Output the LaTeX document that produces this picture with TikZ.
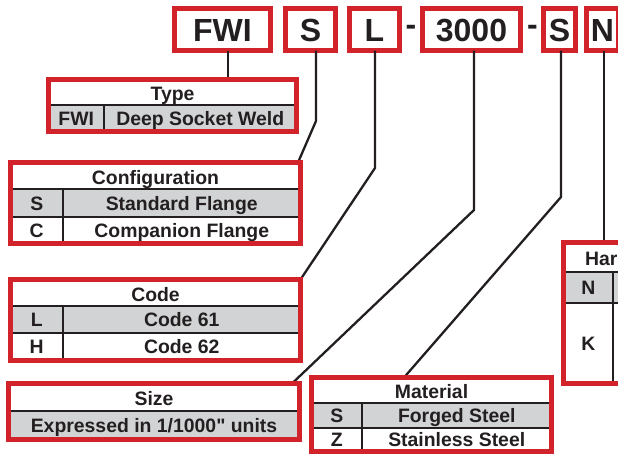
\documentclass[tikz,border=0pt]{standalone}
\usepackage{fontspec}
\setmainfont{Liberation Sans}[Ligatures=TeXOff]
\usepackage{tikz}
\usetikzlibrary{positioning,calc}

\definecolor{brandred}{HTML}{D2232A}
\definecolor{rowgray}{HTML}{D1D3D4}
\definecolor{ink}{HTML}{231F20}

\begin{document}
\begin{tikzpicture}[x=1pt,y=-1pt,
    keybox/.style={draw=brandred,line width=5pt,fill=white,inner sep=0pt,outer sep=0pt,
        minimum height=42pt,text=ink,text height=23pt,text depth=0pt,
        font=\fontsize{32}{36}\selectfont\bfseries},
    cell/.style={inner sep=0pt,outer sep=0pt,text=ink,text height=14pt,text depth=0pt,
        font=\fontsize{19.4}{22}\selectfont\bfseries},
    frame/.style={draw=brandred,line width=5pt,inner sep=0pt,outer sep=0pt},
    rule/.style={draw=ink,line width=2.5pt},
    link/.style={draw=ink,line width=2.3pt}]
    \clip (0,0) rectangle (618,455);

    % codes along the top
    \foreach \n/\x/\w/\t in {type/222.5/96/FWI, conf/310.5/50/S, code/374.5/50/L,
        size/471.5/98/3000, mat/559.5/32/S, hard/602.5/32/N}{
        \node[keybox,minimum width=\w] (key-\n) at (\x,29.5) {\t};
    }
    \node[cell,font=\fontsize{32}{36}\selectfont\bfseries,text height=,anchor=base] (dash-a) at (411,35.7) {-};
    \node[cell,font=\fontsize{32}{36}\selectfont\bfseries,text height=,anchor=base] (dash-b) at (532.5,35.7) {-};

    % connectors
    \draw[link] (key-type.south -| 228,0) -- (228,79.5);
    \draw[link] (key-conf.south -| 316,0) -- (316,121) -- (298,162.5);
    \draw[link] (key-code.south -| 375,0) -- (375,168) -- (300.5,279.5);
    \draw[link] (key-size.south -| 474,0) -- (474,210) -- (292,383.5);
    \draw[link] (key-mat.south -| 561,0) -- (561,197) -- (404,377.5);
    \draw[link] (key-hard.south -| 604,0) -- (604,242.5);

    % table rows
    \foreach \n/\r/\xl/\xm/\xr/\yt/\yb/\f/\k/\d in {
        type/1/48.5/104/296.5/105/131.5/rowgray/FWI/Deep Socket Weld,
        conf/1/10.5/63/300.5/189/217/rowgray/S/Standard Flange,
        conf/2/10.5/63/300.5/217/243.5/white/C/Companion Flange,
        code/1/10.5/63/300.5/306/333/rowgray/L/Code 61,
        code/2/10.5/63/300.5/333/360.5/white/H/Code 62,
        mat/1/311.5/362/551.5/403/428/rowgray/S/Forged Steel,
        mat/2/311.5/362/551.5/428/451.5/white/Z/Stainless Steel,
        hard/1/563.5/613/680/272/303/rowgray/N/{},
        hard/2/563.5/613/680/303/383.5/white/K/{}}{
        \node[cell,fill=\f,minimum width={\xm-\xl},minimum height={\yb-\yt}] (\n-\r-key)
            at ({(\xl+\xm)/2},{(\yt+\yb)/2}) {\k};
        \node[cell,fill=\f,minimum width={\xr-\xm},minimum height={\yb-\yt}] (\n-\r-text)
            at ({(\xm+\xr)/2},{(\yt+\yb)/2}) {\d};
        \draw[rule] (\n-\r-key.north west) -- (\n-\r-text.north east);
        \draw[rule] (\n-\r-key.north east) -- (\n-\r-key.south east);
    }
    \node[cell,fill=rowgray,minimum width=291,minimum height=28.5] (size-1-text) at (154,425.25)
        {Expressed in 1/1000" units};
    \draw[rule] (size-1-text.north west) -- (size-1-text.north east);

    % table headers
    \foreach \n/\x/\y/\t in {type/172.5/93.5/Type, conf/155.5/177/Configuration,
        code/155.5/294/Code, size/154/398.5/Size, mat/431.5/391.5/Material}{
        \node[cell] (\n-head) at (\x,\y) {\t};
    }
    \node[cell,anchor=west] (hard-head) at (585,258.5) {Har};

    % red frames
    \foreach \n/\x/\y/\w/\h in {type/172.5/105.5/248/52, conf/155.5/203/290/81,
        code/155.5/320/290/81, size/154/411.5/291/56, mat/431.5/414.5/240/74,
        hard/621.75/313/116.5/141}{
        \node[frame,minimum width=\w,minimum height=\h] (\n) at (\x,\y) {};
    }
\end{tikzpicture}
\end{document}
